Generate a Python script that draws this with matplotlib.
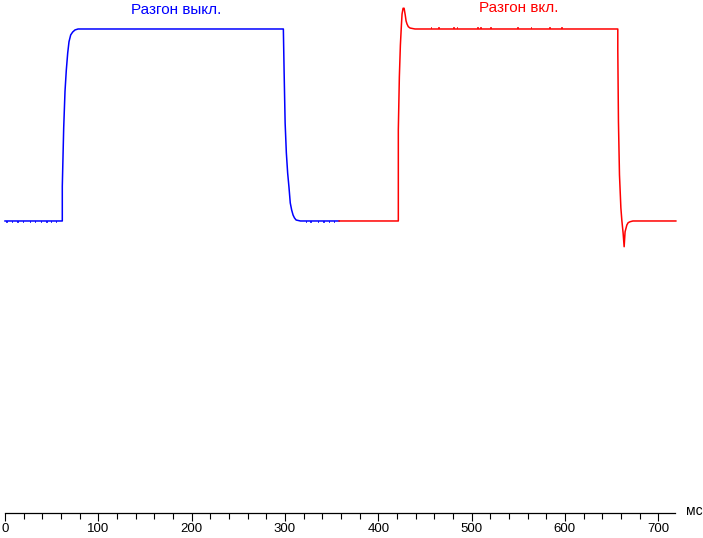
import matplotlib.pyplot as plt
from matplotlib.ticker import MultipleLocator

plt.rcParams['font.family'] = ['Liberation Sans', 'DejaVu Sans']

# blue trace: overdrive off (time in ms, relative brightness)
blue_t = [0, 61.4, 61.4, 62.9, 64.3, 65.7, 67.2, 68.6, 70.4, 72.5, 75.0, 78.3,
          298.3, 299.1, 300.2, 301.5, 302.9, 304.3, 305.7, 307.2, 308.7, 310.2,
          312.0, 316.6, 358.1]
blue_v = [0, 0, 0.18, 0.484, 0.675, 0.786, 0.875, 0.934, 0.969, 0.984, 0.995, 1.0,
          1.0, 0.78, 0.51, 0.355, 0.25, 0.177, 0.094, 0.057, 0.031, 0.016,
          0.005, 0, 0]
blue_dips = [2, 8, 14, 20, 27, 33, 39, 45, 50, 55, 323, 328, 336, 342, 348, 353]

# red trace: overdrive on
red_t = [358.1, 421.5, 421.5, 422.6, 423.7, 424.8, 425.5, 426.6, 427.7, 428.9,
         429.8, 430.8, 432.2, 434.1, 439.4, 656.7, 656.7, 657.4, 658.5, 660.0,
         661.0, 662.4, 663.5, 664.5, 666.4, 667.8, 669.8, 672.9, 718.9]
red_v = [0, 0, 0.474, 0.75, 0.915, 1.02, 1.078, 1.108, 1.108, 1.073,
         1.042, 1.026, 1.012, 1.005, 1.0, 1.0, 0.89, 0.517, 0.24, 0.068,
         0.005, -0.063, -0.134, -0.056, -0.021, -0.009, -0.004, 0, 0]
red_bumps = [457, 465, 481, 485, 507, 510, 521, 550, 564, 584, 597]

fig = plt.figure(figsize=(7.03, 5.38), dpi=100)
ax = fig.add_axes([5 / 703, 25 / 538, 670 / 703, 513 / 538])

ax.plot(blue_t, blue_v, color='#0000ff', lw=1.1, clip_on=False)
ax.hlines([-0.005] * len(blue_dips), [t - 0.7 for t in blue_dips],
          [t + 0.7 for t in blue_dips], color='#0000ff', lw=1.1)
ax.plot(red_t, red_v, color='#ff0000', lw=1.1, clip_on=False)
ax.hlines([1.005] * len(red_bumps), [t - 0.8 for t in red_bumps],
          [t + 0.8 for t in red_bumps], color='#ff0000', lw=1.1)

ax.text(183.8, 1.1, 'Разгон выкл.', color='#0000ff', fontsize=11,
        ha='center', va='center')
ax.text(551, 1.11, 'Разгон вкл.', color='#ff0000', fontsize=11,
        ha='center', va='center')

ax.set_xlim(0, 718)
ax.set_ylim(-1.521, 1.151)
for s in ['top', 'right', 'left']:
    ax.spines[s].set_visible(False)
ax.spines['bottom'].set_linewidth(0.9)
ax.set_yticks([])
ax.xaxis.set_major_locator(MultipleLocator(100))
ax.xaxis.set_minor_locator(MultipleLocator(20))
ax.tick_params(axis='x', which='major', length=6, width=0.8, labelsize=9.5, pad=1)
ax.tick_params(axis='x', which='minor', length=4, width=0.8)
ax.set_xticks(range(0, 701, 100))
fig.text(694 / 703, 1 - 511 / 538, 'мс', fontsize=10, ha='center', va='center')

fig.savefig('out.png', dpi=100)
